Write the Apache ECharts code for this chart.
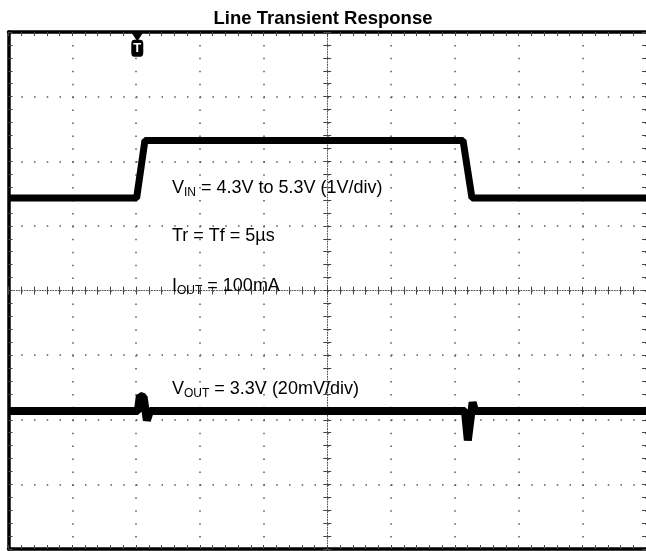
<!DOCTYPE html>
<html><head><meta charset="utf-8">
<script src="https://cdn.jsdelivr.net/npm/echarts@6/dist/echarts.min.js"></script>
<style>html,body{margin:0;padding:0;background:#fff}#c{width:646px;height:551px}</style>
</head><body><div id="c"></div>
<script>
// Oscilloscope screen: horizontal = time in divisions (0..10), vertical = divisions (0..8)
const xRange = [0, 10];
const yRange = [0, 8];
// VIN trace (1V/div) in screen divisions
const vinTime  = [0, 2.01, 2.14, 7.13, 7.27, 10];
const vinLevel = [5.43, 5.43, 6.32, 6.32, 5.43, 5.43];
// VOUT trace (20mV/div)
const voutTime  = [0, 2.03, 2.06, 2.12, 2.17, 2.22, 7.16, 7.205, 7.225, 7.28, 7.32, 10];
const voutLevel = [2.135, 2.135, 2.37, 2.35, 1.99, 2.135, 2.135, 1.68, 1.68, 2.27, 2.135, 2.135];
// trigger marker
const triggerTime = 2.02;
const triggerMarks = [7.93, 7.75];
// texts
const titleText = 'Line Transient Response';
const noteTexts = [
  ['V', 'IN', ' = 4.3V to 5.3V (1V/div)'],
  ['Tr = Tf = 5µs', '', ''],
  ['I', 'OUT', ' = 100mA'],
  ['V', 'OUT', ' = 3.3V (20mV/div)']
];

const FONT = '"Liberation Sans", Arial, Helvetica, sans-serif';
const zip = (a, b) => a.map((v, i) => [v, b[i]]);

const G = {left: 8.5, top: 32, width: 637.5, height: 517};
const grids = [
  {left: G.left, top: G.top, width: G.width, height: G.height},
  {left: G.left, top: G.top, width: G.width, height: G.height / 2},
  {left: G.left, top: G.top + G.height / 2, width: G.width, height: G.height / 2},
  {left: G.left, top: G.top, width: G.width / 2, height: G.height},
  {left: G.left + G.width / 2, top: G.top, width: G.width / 2, height: G.height}
];
const dotX = G.height / 8 / 5, dotY = G.width / 10 / 5;
const tickColor = '#444';
const border = {show: true, onZero: false, lineStyle: {color: '#000', width: 3.5}};
const centerLine = {show: true, onZero: false, lineStyle: {color: '#555', width: 1, type: [1, 1.6]}};
const noLine = {show: false, onZero: false};
const ticks = (len) => ({show: true, inside: true, length: len, lineStyle: {color: tickColor, width: 1}});
const minor = (len) => ({show: true, splitNumber: 5, length: len, lineStyle: {color: tickColor, width: 1}});

function xAx(grid, pos, line, withTicks, split) {
  return {type: 'value', gridIndex: grid, position: pos, min: xRange[0], max: xRange[1], interval: 1,
    axisLine: line, axisTick: withTicks ? ticks(4) : {show: false},
    minorTick: withTicks ? minor(4) : {show: false},
    axisLabel: {show: false},
    splitLine: split ? {show: true, lineStyle: {color: '#555', width: 1.5, type: [1.5, dotX - 1.5]}} : {show: false}};
}
function yAx(grid, pos, line, withTicks, split) {
  return {type: 'value', gridIndex: grid, position: pos, min: yRange[0], max: yRange[1], interval: 1,
    axisLine: line, axisTick: withTicks ? ticks(4) : {show: false},
    minorTick: withTicks ? minor(4) : {show: false},
    axisLabel: {show: false},
    splitLine: split ? {show: true, lineStyle: {color: '#555', width: 1.5, type: [1.5, dotY - 1.5]}} : {show: false}};
}

const xAxes = [
  xAx(0, 'bottom', border, true, true),
  xAx(0, 'top', border, true, false),
  xAx(1, 'bottom', centerLine, true, false),
  xAx(2, 'top', noLine, true, false),
  Object.assign(xAx(3, 'bottom', noLine, false, false), {show: false}),
  Object.assign(xAx(4, 'bottom', noLine, false, false), {show: false})
];
const yAxes = [
  yAx(0, 'left', border, true, true),
  yAx(0, 'right', noLine, true, false),
  Object.assign(yAx(1, 'left', noLine, false, false), {show: false}),
  Object.assign(yAx(2, 'left', noLine, false, false), {show: false}),
  yAx(3, 'right', centerLine, true, false),
  yAx(4, 'left', noLine, true, false)
];

const rich = {
  m: {fontSize: 18, fontFamily: FONT, color: '#000', lineHeight: 22},
  s: {fontSize: 12, fontFamily: FONT, color: '#000', lineHeight: 16, verticalAlign: 'bottom'}
};
const notePos = [[172, 188], [172, 236], [172, 286], [172, 389]];
const graphics = noteTexts.map((t, i) => {
  let txt = '{m|' + t[0] + '}';
  if (t[1]) txt += '{s|' + t[1] + '}';
  if (t[2]) txt += '{m|' + t[2] + '}';
  return {type: 'text', x: notePos[i][0], y: notePos[i][1], z: 10,
    style: {text: txt, rich: rich, align: 'left', verticalAlign: 'middle'}};
});

const chart = echarts.init(document.getElementById('c'), null, {renderer: 'canvas'});
chart.setOption({
  animation: false,
  backgroundColor: '#fff',
  title: {text: titleText, left: 'center', top: 4,
    textStyle: {fontFamily: FONT, fontSize: 18.5, fontWeight: 'bold', color: '#000'}},
  grid: grids,
  xAxis: xAxes,
  yAxis: yAxes,
  series: [
    {name: 'VIN', type: 'line', xAxisIndex: 0, yAxisIndex: 0, data: zip(vinTime, vinLevel),
      showSymbol: false, lineStyle: {color: '#000', width: 7}, z: 5},
    {name: 'VOUT', type: 'line', xAxisIndex: 0, yAxisIndex: 0, data: zip(voutTime, voutLevel),
      showSymbol: false, lineStyle: {color: '#000', width: 8}, z: 5},
    {name: 'trigger', type: 'scatter', xAxisIndex: 0, yAxisIndex: 0,
      data: [[triggerTime, triggerMarks[0]]], symbol: 'triangle', symbolRotate: 180,
      symbolSize: [13, 10], itemStyle: {color: '#000', opacity: 1}, z: 20, zlevel: 1, clip: false},
    {name: 'triggerTag', type: 'scatter', xAxisIndex: 0, yAxisIndex: 0,
      data: [[triggerTime, triggerMarks[1]]], symbol: 'roundRect',
      symbolSize: [12, 17], itemStyle: {color: '#000', opacity: 1}, z: 20, zlevel: 1, clip: false,
      label: {show: true, position: 'inside', formatter: 'T', color: '#fff',
        fontFamily: FONT, fontWeight: 'bold', fontSize: 13}}
  ],
  graphic: graphics
});
</script>
</body></html>
